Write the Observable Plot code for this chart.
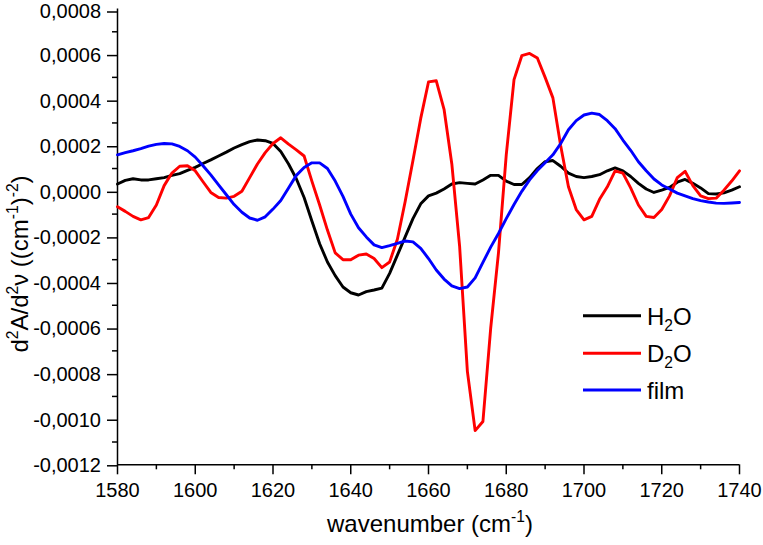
<!DOCTYPE html>
<html>
<head>
<meta charset="utf-8">
<script src="https://cdn.jsdelivr.net/npm/d3@7"></script>
<script src="https://cdn.jsdelivr.net/npm/@observablehq/plot@0.6"></script>
<style>
  html, body { margin: 0; padding: 0; background: #fff; }
  #chart svg { display: block; }
</style>
</head>
<body>
<div id="chart"></div>
<script>
// wavenumber grid (cm-1)
const wavenumbers = d3.range(1580, 1741, 2);
// second-derivative values, in units of 1e-4 (cm-1)^-2
const h2o = [0.32,0.48,0.55,0.5,0.5,0.55,0.6,0.7,0.78,0.92,
  1.05,1.22,1.38,1.55,1.72,1.9,2.05,2.18,2.25,2.22,
  2.1,1.75,1.2,0.55,-0.27,-1.3,-2.3,-3.1,-3.7,-4.2,
  -4.45,-4.55,-4.4,-4.33,-4.25,-3.6,-2.8,-2.0,-1.2,-0.55,
  -0.2,-0.08,0.1,0.32,0.38,0.35,0.32,0.5,0.7,0.7,
  0.45,0.3,0.3,0.6,1.0,1.3,1.35,1.1,0.8,0.65,
  0.6,0.65,0.73,0.9,1.03,0.9,0.65,0.35,0.1,-0.05,
  0.05,0.17,0.4,0.52,0.35,0.15,-0.1,-0.12,-0.07,0.05,
  0.2];
const d2o = [-0.68,-0.88,-1.1,-1.25,-1.15,-0.6,0.25,0.8,1.1,1.12,
  0.9,0.42,-0.05,-0.27,-0.3,-0.22,0.0,0.6,1.2,1.7,
  2.1,2.35,2.07,1.82,1.55,0.45,-0.6,-1.7,-2.7,-3.0,
  -3.0,-2.8,-2.75,-2.95,-3.35,-3.1,-2.1,-0.45,1.35,3.2,
  4.8,4.85,3.6,1.2,-2.4,-7.9,-10.5,-10.1,-6.0,-2.7,
  1.6,4.9,5.95,6.05,5.85,5.0,4.1,2.0,0.2,-0.8,
  -1.25,-1.1,-0.35,0.2,0.9,0.8,0.15,-0.6,-1.1,-1.15,
  -0.8,-0.2,0.6,0.88,0.25,-0.2,-0.32,-0.3,0.05,0.45,
  0.9];
const film = [1.6,1.7,1.78,1.87,1.98,2.06,2.1,2.08,1.97,1.78,
  1.5,1.12,0.72,0.28,-0.15,-0.58,-0.92,-1.17,-1.27,-1.12,
  -0.78,-0.4,0.15,0.7,1.05,1.25,1.25,1.0,0.45,-0.22,
  -1.0,-1.6,-2.0,-2.35,-2.47,-2.38,-2.28,-2.18,-2.22,-2.5,
  -2.95,-3.45,-3.85,-4.15,-4.27,-4.2,-3.8,-3.12,-2.45,-1.85,
  -1.2,-0.58,0.0,0.5,0.91,1.25,1.6,2.1,2.7,3.1,
  3.35,3.43,3.37,3.1,2.75,2.25,1.8,1.3,0.9,0.54,
  0.28,0.1,-0.08,-0.2,-0.32,-0.41,-0.47,-0.52,-0.53,-0.51,
  -0.49];
const seriesNames = ["H2O", "D2O", "film"];
const seriesColors = ["#000000", "#ff0000", "#0000ff"];
const xMajorTicks = [1580, 1600, 1620, 1640, 1660, 1680, 1700, 1720, 1740];
const xMinorTicks = [1590, 1610, 1630, 1650, 1670, 1690, 1710, 1730];
const yMajorTicks = [-12, -10, -8, -6, -4, -2, 0, 2, 4, 6].map(v => v / 10000);
const yTopTick = [8].map(v => v / 10000);
const yMinorTicks = [-11, -9, -7, -5, -3, -1, 1, 3, 5, 7].map(v => v / 10000);

const UNIT = 1e-4;
const allSeries = [h2o, d2o, film];
const rows = [];
allSeries.forEach((arr, si) => {
  arr.forEach((v, i) => rows.push({series: seriesNames[si], w: wavenumbers[i], v: v * UNIT}));
});

const fmt = d3.formatLocale({decimal: ",", thousands: ".", grouping: [3], currency: ["", ""], minus: "-"}).format(".4f");
const FONT = "'Liberation Sans', Arial, Helvetica, sans-serif";

const W = 763, H = 545;
const mL = 117, mR = 24, mT = 8.5, mB = 80.7;

const plot = Plot.plot({
  width: W, height: H,
  marginLeft: mL, marginRight: mR, marginTop: mT, marginBottom: mB,
  style: {fontFamily: FONT, fontSize: "20px", color: "#000", background: "#fff", overflow: "visible"},
  x: {domain: [1580, 1740]},
  y: {domain: [-0.0012, 0.0008]},
  color: {domain: seriesNames, range: seriesColors},
  marks: [
    Plot.axisX({ticks: xMajorTicks, tickSize: 10, tickPadding: 8, tickFormat: d => String(d), fontSize: 20, label: null, strokeWidth: 1.5, strokeOpacity: 1}),
    Plot.axisX({ticks: xMinorTicks, tickSize: 5, text: null, label: null, strokeWidth: 1.5, strokeOpacity: 1}),
    Plot.axisY({ticks: yMajorTicks, tickSize: 10, tickPadding: 6.5, tickFormat: fmt, fontSize: 20, dy: 1, label: null, strokeWidth: 1.5, strokeOpacity: 1}),
    Plot.axisY({ticks: yTopTick, tickSize: 10, tickPadding: 6.5, tickFormat: fmt, fontSize: 20, dy: 3, label: null, strokeWidth: 1.5, strokeOpacity: 1}),
    Plot.axisY({ticks: yMinorTicks, tickSize: 5, text: null, label: null, strokeWidth: 1.5, strokeOpacity: 1}),
    Plot.ruleY([-0.0012], {stroke: "#000", strokeWidth: 1.5}),
    Plot.ruleX([1580], {stroke: "#000", strokeWidth: 1.5}),
    Plot.line(rows, {x: "w", y: "v", z: "series", stroke: "series", strokeWidth: 2.9, strokeLinejoin: "round", strokeLinecap: "round"})
  ]
});

document.getElementById("chart").appendChild(plot);

const svg = d3.select(plot);

// text with superscripts / subscripts as tspans
function rich(sel, parts, size) {
  let pending = 0;
  parts.forEach(p => {
    const ts = sel.append("tspan").text(p.t);
    if (p.sup || p.sub) {
      const shift = p.sup ? -size * 0.42 : size * 0.25;
      ts.attr("font-size", size * 0.65).attr("dy", pending + shift);
      pending = -shift;
    } else {
      ts.attr("font-size", size);
      if (pending) ts.attr("dy", pending);
      pending = 0;
    }
  });
}

// x axis title
const TS = 24;
const xt = svg.append("text").attr("x", 430).attr("y", 532).attr("text-anchor", "middle")
  .attr("font-family", FONT).attr("fill", "#000");
rich(xt, [{t: "wavenumber (cm"}, {t: "-1", sup: true}, {t: ")"}], TS);

// y axis title
const yt = svg.append("text").attr("transform", "translate(28,264) rotate(-90)").attr("text-anchor", "middle")
  .attr("font-family", FONT).attr("fill", "#000");
rich(yt, [{t: "d"}, {t: "2", sup: true}, {t: "A/d"}, {t: "2", sup: true}, {t: "\u03bd ((cm"}, {t: "-1", sup: true}, {t: ")"}, {t: "-2", sup: true}, {t: ")"}], TS);

// legend
const legendItems = [
  {parts: [{t: "H"}, {t: "2", sub: true}, {t: "O"}], y: 315.7},
  {parts: [{t: "D"}, {t: "2", sub: true}, {t: "O"}], y: 353.3},
  {parts: [{t: "film"}], y: 390}
];
const LS = 24;
legendItems.forEach((it, i) => {
  svg.append("line").attr("x1", 583).attr("x2", 641).attr("y1", it.y).attr("y2", it.y)
    .attr("stroke", seriesColors[i]).attr("stroke-width", 3);
  const t = svg.append("text").attr("x", 647).attr("y", it.y + 9).attr("text-anchor", "start")
    .attr("font-family", FONT).attr("fill", "#000");
  rich(t, it.parts, LS);
});
</script>
</body>
</html>
